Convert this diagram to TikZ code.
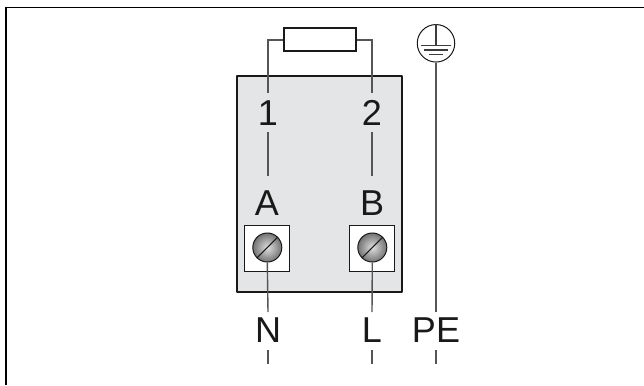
\documentclass[tikz,border=0pt]{standalone}
\usepackage{fontspec}
\setmainfont{Liberation Sans}
\definecolor{wirec}{RGB}{85,85,85}
\definecolor{panel}{RGB}{228,229,231}
\definecolor{inkc}{RGB}{25,25,25}
\tikzset{
  wire/.style={draw=wirec,line width=1.4pt},
  lbl/.style={font=\fontsize{36}{36}\selectfont,text=inkc,inner sep=0pt,anchor=base},
  termbox/.style={draw=inkc,fill=white,line width=1.2pt,minimum width=45pt,minimum height=46pt,inner sep=0pt},
  screw/.style={circle,draw=inkc,line width=1pt,minimum size=29pt,inner sep=0pt,inner color=white!75!gray,outer color=black!55},
  earthbar/.style={draw=inkc!85!white,line width=1.1pt},
}
\begin{document}
\begin{tikzpicture}[x=1pt,y=-1pt]
\useasboundingbox (0,0) rectangle (644,385);
\fill[white] (0,0) rectangle (644,385);
\draw[black,line width=1.3pt] (6,7.3) -- (644,7.3);
\draw[black,line width=2pt] (6,6.6) -- (6,385);
% panel
\node[draw=inkc,fill=panel,line width=2.5pt,inner sep=0pt,minimum width=165pt,minimum height=216pt,line join=round] (panel) at (319.5,184) {};
% resistor
\node[draw=inkc,fill=white,line width=1.2pt,minimum width=72pt,minimum height=23pt,inner sep=0pt] (res) at (320,39.5) {};
\coordinate (c1) at (268,40);
\coordinate (c2) at (372,40);
\coordinate (w1) at (268,93);
\coordinate (w2) at (372,93);
\draw[wire] (res.west |- c1) -- (c1) -- (w1);
\draw[wire] (res.east |- c2) -- (c2) -- (w2);
% numbers
\node[lbl] (n1) at (268,125.5) {1};
\node[lbl] (n2) at (372,125.5) {2};
\coordinate (a1) at (268,132); \coordinate (a2) at (268,176);
\coordinate (b1) at (372,132); \coordinate (b2) at (372,176);
\draw[wire] (a1) -- (a2);
\draw[wire] (b1) -- (b2);
\node[lbl] (A) at (267,215) {A};
\node[lbl] (B) at (372,215) {B};
% terminals
\node[termbox] (ta) at (267.2,248.3) {};
\node[termbox] (tb) at (372,248.3) {};
\node[screw] (sa) at (267.3,247.5) {};
\node[screw] (sb) at (372.3,247.5) {};
\draw[inkc,line width=1.1pt] (sa.225) -- (sa.45);
\draw[inkc,line width=1.1pt] (sb.225) -- (sb.45);
% lower wires
\coordinate (na) at (268,312); \coordinate (nb) at (372,312);
\draw[wire] (sa.south) -- (na);
\draw[wire] (sb.south) -- (nb);
\node[lbl] (N) at (268,342) {N};
\node[lbl] (L) at (372,342) {L};
\node[lbl] (PE) at (436,342) {PE};
\coordinate (t1) at (268,350); \coordinate (t1e) at (268,364);
\coordinate (t2) at (372,350); \coordinate (t2e) at (372,364);
\coordinate (t3) at (436,350); \coordinate (t3e) at (436,364);
\draw[wire] (t1) -- (t1e);
\draw[wire] (t2) -- (t2e);
\draw[wire] (t3) -- (t3e);
% earth
\node[circle,draw=inkc,fill=white,line width=1pt,minimum size=37.5pt,inner sep=0pt] (earth) at (436,43.3) {};
\coordinate (pe) at (436,312);
\draw[wire] (earth.south) -- (pe);
\draw[earthbar] (earth.north) -- (436,45.7);
\draw[earthbar] (421,45.7) -- (451,45.7);
\draw[earthbar] (424,50) -- (448,50);
\draw[earthbar] (429.3,54.7) -- (442.7,54.7);
\end{tikzpicture}
\end{document}
